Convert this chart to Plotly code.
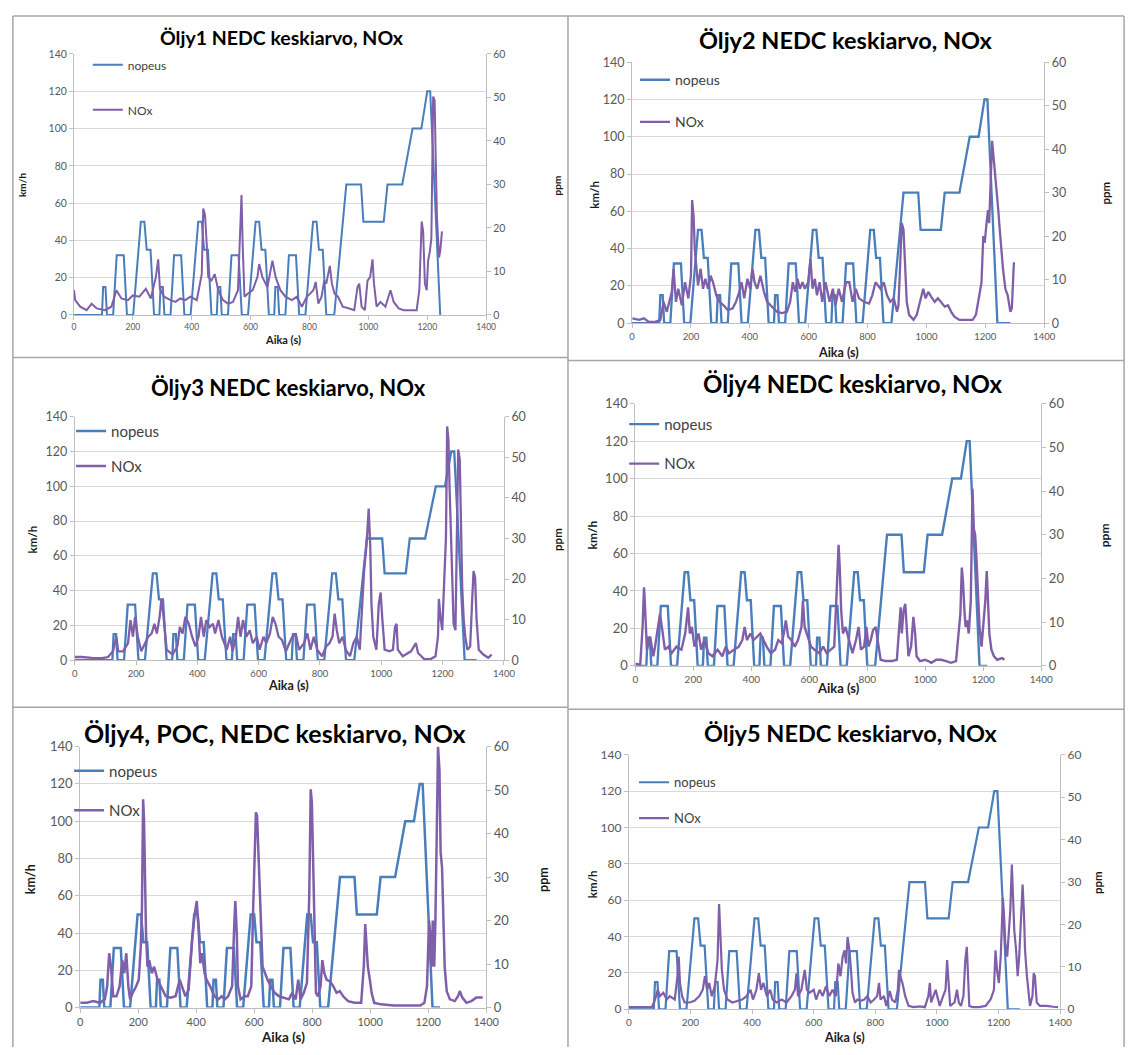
import plotly.graph_objects as go

W, H = 1143, 1055

titles = ["Öljy1 NEDC keskiarvo, NOx", "Öljy2 NEDC keskiarvo, NOx",
          "Öljy3 NEDC keskiarvo, NOx", "Öljy4 NEDC keskiarvo, NOx",
          "Öljy4, POC, NEDC keskiarvo, NOx", "Öljy5 NEDC keskiarvo, NOx"]

# NEDC speed profile (time from cycle start, s ; km/h)
nedc_time = [0, 11, 15, 23, 28, 49, 61, 85, 96, 117, 143, 155, 163, 176, 188,
             195, 206, 210, 218, 223, 244, 256, 280, 291, 312, 338, 350, 358, 371, 383,
             390, 401, 405, 413, 418, 439, 451, 475, 486, 507, 533, 545, 553, 566, 578,
             585, 596, 600, 608, 613, 634, 646, 670, 681, 702, 728, 740, 748, 761, 773,
             780, 800, 841, 891, 899, 968, 981, 1031, 1066, 1096, 1116, 1126, 1160]
nedc_speed = [0, 0, 15, 15, 0, 0, 32, 32, 0, 0, 50, 50, 35, 35, 0,
              0, 0, 15, 15, 0, 0, 32, 32, 0, 0, 50, 50, 35, 35, 0,
              0, 0, 15, 15, 0, 0, 32, 32, 0, 0, 50, 50, 35, 35, 0,
              0, 0, 15, 15, 0, 0, 32, 32, 0, 0, 50, 50, 35, 35, 0,
              0, 0, 70, 70, 50, 50, 70, 70, 100, 100, 120, 120, 0]
# cycle start time and last logged time of speed in each test (s)
cycle_start = [84, 81, 112, 27, 55, 70]
speed_end = [1244, 1285, 1311, 1214, 1241, 1270]

# NOx (ppm) per test
p1_time = [0, 4, 21, 43, 60, 77, 105, 127, 144, 161, 183, 200, 222, 244, 261, 278, 286, 292, 306, 328,
           345, 361, 378, 395, 417, 434, 439, 445, 451, 456, 467, 478, 490, 506, 523, 540, 557, 564, 569, 573,
           579, 590, 607, 623, 629, 640, 657, 674, 685, 701, 718, 740, 757, 774, 791, 802, 813, 821, 830, 841,
           850, 857, 869, 876, 885, 897, 913, 935, 952, 963, 969, 977, 988, 997, 1006, 1014, 1019, 1028, 1041, 1058,
           1075, 1086, 1103, 1120, 1164, 1173, 1181, 1186, 1192, 1198, 1203, 1209, 1214, 1220, 1225, 1229, 1233, 1240, 1244, 1250]
p1_nox = [5.7, 3.4, 1.9, 1.1, 2.6, 1.5, 1.1, 1.9, 5.7, 3.8, 3.4, 4.5, 4.2, 6.0, 3.8, 8.7, 12.8, 6.0, 4.2, 3.4,
          3.0, 3.8, 3.4, 4.2, 3.4, 9.4, 24.5, 23.0, 16.2, 8.7, 7.9, 9.4, 5.7, 3.4, 2.6, 3.0, 5.7, 20.8, 27.6, 16.2,
          4.2, 4.9, 5.7, 8.7, 11.7, 8.7, 6.4, 12.5, 8.7, 5.7, 4.2, 3.4, 4.2, 1.9, 4.2, 4.9, 5.7, 7.6, 2.6, 4.2,
          7.9, 7.2, 11.3, 7.2, 4.9, 4.2, 1.9, 1.5, 1.1, 6.4, 7.2, 1.9, 1.1, 7.9, 8.7, 12.8, 7.2, 1.9, 3.0, 1.9,
          5.7, 3.0, 1.5, 1.1, 1.1, 5.7, 21.5, 19.2, 7.2, 5.7, 12.5, 14.7, 17.7, 50.2, 49.4, 35.1, 22.3, 13.2, 14.7, 19.2]

p2_time = [1, 24, 40, 57, 79, 96, 107, 118, 135, 141, 149, 157, 169, 180, 191, 200, 204, 209, 213, 220,
           224, 233, 241, 249, 258, 267, 275, 286, 297, 311, 325, 342, 353, 364, 372, 381, 392, 401, 409, 416,
           425, 436, 448, 459, 476, 492, 509, 526, 537, 546, 554, 562, 570, 579, 587, 598, 606, 613, 621, 628,
           637, 646, 657, 671, 682, 691, 702, 713, 727, 738, 749, 760, 771, 788, 805, 816, 827, 836, 844, 855,
           866, 877, 889, 900, 905, 911, 916, 922, 928, 933, 941, 956, 967, 978, 989, 997, 1006, 1017, 1028, 1039,
           1050, 1062, 1073, 1084, 1095, 1112, 1134, 1157, 1168, 1179, 1187, 1193, 1198, 1204, 1209, 1213, 1218, 1223, 1228, 1232,
           1238, 1244, 1248, 1254, 1260, 1268, 1276, 1285, 1290, 1297]
p2_nox = [1.1, 0.75, 1.1, 0.3, 0.3, 0.75, 4.9, 2.6, 7.2, 12.5, 4.9, 7.9, 4.1, 9.4, 5.7, 10.9, 28.3, 24.5, 17.0, 10.9,
          8.7, 12.5, 7.9, 10.2, 7.9, 10.9, 9.4, 6.4, 4.9, 4.1, 3.0, 3.4, 4.9, 7.2, 9.4, 5.7, 10.2, 7.9, 12.5, 9.4,
          7.9, 10.9, 7.2, 4.9, 3.8, 2.6, 2.3, 2.6, 4.9, 9.4, 7.2, 10.2, 7.9, 9.4, 7.9, 9.4, 14.7, 7.9, 10.2, 6.4,
          9.4, 4.9, 9.4, 4.9, 7.9, 4.1, 7.9, 4.9, 9.4, 9.4, 4.9, 7.9, 5.7, 4.9, 4.5, 6.4, 9.4, 8.7, 7.9, 9.4,
          6.4, 4.9, 5.7, 2.6, 4.1, 14.0, 23.0, 21.5, 13.2, 4.9, 1.9, 0.75, 1.9, 4.9, 7.9, 5.7, 7.2, 6.0, 4.9, 5.7,
          4.9, 3.8, 4.1, 2.6, 1.5, 0.75, 0.75, 0.75, 1.9, 6.4, 9.4, 20.0, 18.5, 23.0, 26.0, 23.0, 32.1, 41.9, 38.1, 35.1,
          32.1, 26.0, 22.3, 17.0, 12.5, 7.9, 6.4, 2.6, 3.4, 14.0]

p3_time = [0, 23, 56, 88, 109, 125, 136, 142, 158, 174, 182, 190, 197, 206, 217, 230, 240, 251, 260, 268,
           277, 283, 290, 300, 319, 335, 343, 352, 361, 372, 383, 394, 404, 412, 421, 429, 440, 451, 458, 469,
           480, 496, 507, 515, 526, 533, 541, 549, 560, 571, 581, 594, 603, 616, 625, 637, 646, 655, 665, 676,
           689, 700, 710, 721, 732, 748, 759, 769, 780, 791, 807, 820, 831, 841, 848, 855, 863, 874, 884, 898,
           909, 920, 930, 938, 944, 952, 959, 964, 968, 974, 984, 992, 998, 1003, 1011, 1027, 1038, 1045, 1050, 1054,
           1070, 1097, 1113, 1120, 1140, 1161, 1177, 1185, 1188, 1193, 1199, 1204, 1211, 1215, 1219, 1223, 1228, 1232, 1236, 1242,
           1247, 1251, 1256, 1260, 1264, 1269, 1274, 1281, 1290, 1296, 1301, 1306, 1311, 1318, 1333, 1349, 1360]
p3_nox = [0.8, 0.8, 0.6, 0.5, 0.8, 2.2, 5.8, 2.2, 2.2, 4.2, 9.9, 5.8, 10.7, 5.8, 2.2, 4.2, 5.8, 6.6, 9.0, 6.6,
          10.7, 15.1, 10.7, 2.6, 1.4, 3.4, 8.2, 6.6, 10.7, 9.0, 5.8, 3.4, 5.8, 10.7, 5.8, 9.9, 8.2, 9.0, 6.6, 9.9,
          5.8, 2.6, 5.8, 2.2, 5.8, 10.7, 5.8, 9.9, 5.8, 7.4, 4.2, 5.8, 2.6, 5.8, 4.2, 6.6, 10.7, 9.0, 5.8, 5.0,
          2.2, 4.2, 5.8, 6.6, 2.6, 4.2, 6.6, 2.6, 5.8, 2.6, 1.0, 3.4, 4.2, 5.8, 11.5, 7.4, 4.2, 5.8, 2.6, 1.0,
          4.2, 5.8, 2.6, 13.9, 22.0, 28.5, 37.4, 28.5, 13.9, 5.8, 2.6, 13.9, 16.7, 10.7, 2.6, 2.2, 2.6, 8.2, 9.0, 2.6,
          1.0, 2.2, 4.2, 1.8, 0.3, 0.3, 1.0, 5.8, 15.1, 10.7, 7.4, 17.1, 30.1, 57.6, 54.3, 42.2, 30.1, 17.1, 9.0, 7.4,
          34.1, 51.9, 49.5, 30.1, 18.0, 9.9, 5.8, 2.6, 3.4, 13.9, 22.0, 20.4, 9.9, 2.6, 1.4, 0.6, 1.4]

p4_time = [0, 17, 25, 30, 34, 40, 51, 62, 68, 77, 85, 93, 102, 114, 125, 142, 159, 172, 182, 188,
           195, 204, 218, 227, 238, 252, 266, 284, 300, 312, 323, 340, 357, 369, 377, 385, 397, 408, 420, 431,
           442, 453, 467, 482, 493, 505, 512, 519, 527, 538, 550, 561, 573, 578, 584, 595, 606, 618, 635, 648,
           660, 674, 686, 694, 701, 705, 710, 716, 725, 737, 749, 761, 770, 778, 789, 797, 804, 812, 820, 829,
           838, 846, 863, 885, 902, 910, 915, 919, 925, 931, 936, 942, 951, 959, 965, 970, 982, 999, 1010, 1021,
           1038, 1055, 1072, 1089, 1106, 1114, 1121, 1126, 1130, 1135, 1139, 1144, 1150, 1157, 1163, 1167, 1172, 1177, 1182, 1187,
           1194, 1200, 1207, 1212, 1216, 1221, 1228, 1237, 1248, 1265, 1273]
p4_nox = [0.5, 0.3, 8.9, 18.0, 12.7, 3.7, 6.7, 2.2, 4.4, 8.9, 11.9, 8.2, 3.7, 4.4, 2.9, 4.4, 3.7, 7.4, 13.4, 7.4,
          8.9, 4.4, 7.4, 3.7, 5.9, 2.9, 2.2, 3.7, 2.2, 4.4, 2.9, 3.7, 4.4, 5.9, 8.9, 5.9, 7.4, 5.9, 6.7, 7.4,
          5.9, 4.4, 2.9, 3.7, 5.9, 5.2, 7.4, 10.4, 6.7, 5.9, 4.4, 5.9, 8.9, 14.9, 8.9, 6.7, 4.4, 3.7, 2.9, 4.4,
          2.9, 3.7, 4.4, 16.4, 27.7, 22.5, 12.7, 7.4, 8.9, 5.9, 2.9, 5.9, 8.9, 3.7, 4.4, 8.9, 4.4, 5.9, 8.2, 8.9,
          4.4, 1.4, 1.1, 1.1, 1.4, 8.9, 13.4, 7.4, 12.7, 14.2, 8.9, 2.2, 4.4, 11.2, 7.4, 2.2, 1.1, 1.4, 1.1, 0.7,
          1.4, 1.4, 1.1, 0.7, 1.1, 6.7, 11.9, 22.5, 19.4, 12.7, 8.9, 10.4, 7.4, 14.9, 40.5, 31.5, 30.0, 24.0, 16.4, 8.9,
          4.4, 8.9, 14.9, 21.7, 16.4, 7.4, 3.7, 2.2, 1.4, 1.8, 1.4]

p5_time = [0, 23, 45, 68, 85, 93, 100, 106, 114, 125, 136, 145, 152, 159, 166, 172, 181, 193, 202, 209,
           213, 217, 220, 224, 227, 232, 238, 247, 255, 267, 278, 295, 312, 329, 343, 352, 363, 374, 386, 395,
           402, 408, 414, 420, 429, 436, 448, 463, 476, 488, 499, 510, 524, 531, 535, 540, 544, 553, 567, 578,
           590, 596, 601, 606, 610, 615, 619, 624, 629, 637, 646, 658, 671, 686, 703, 720, 731, 743, 752, 760,
           771, 782, 790, 795, 799, 804, 808, 813, 820, 829, 835, 842, 850, 862, 873, 884, 895, 907, 924, 946,
           969, 978, 983, 987, 992, 999, 1005, 1014, 1037, 1082, 1128, 1173, 1187, 1196, 1203, 1207, 1212, 1216, 1221, 1225,
           1230, 1234, 1239, 1243, 1248, 1252, 1257, 1264, 1275, 1292, 1303, 1309, 1318, 1332, 1349, 1366, 1388]
p5_nox = [1.1, 1.1, 1.5, 1.1, 1.9, 4.9, 12.5, 9.4, 2.6, 2.6, 4.9, 10.9, 7.9, 12.5, 4.9, 1.9, 3.4, 4.9, 6.4, 14.0,
          23.0, 47.9, 43.4, 28.3, 17.0, 9.4, 10.9, 7.9, 9.4, 6.4, 4.9, 2.6, 2.3, 2.6, 6.4, 4.9, 2.6, 4.1, 15.5, 21.5,
          24.5, 18.5, 10.2, 12.5, 7.9, 6.4, 4.9, 2.6, 1.9, 2.6, 1.9, 2.6, 4.9, 18.5, 24.5, 17.0, 4.9, 1.9, 2.6, 2.6,
          4.9, 21.5, 32.1, 44.9, 44.1, 35.8, 30.6, 18.5, 9.4, 7.9, 6.4, 4.9, 3.4, 2.6, 2.3, 1.9, 3.4, 1.9, 6.4, 1.9,
          3.4, 5.7, 26.0, 50.2, 47.2, 32.1, 17.0, 3.4, 2.6, 4.9, 10.9, 7.9, 6.4, 6.0, 4.9, 3.4, 3.8, 2.6, 1.5, 1.1,
          1.1, 9.4, 19.2, 15.5, 9.4, 6.4, 3.4, 1.1, 0.75, 0.5, 0.5, 0.5, 1.1, 4.9, 20.0, 17.0, 9.4, 20.0, 9.4, 20.0,
          41.1, 60.0, 54.7, 35.8, 32.1, 22.3, 9.4, 3.8, 1.9, 1.5, 2.6, 3.8, 2.3, 1.1, 1.5, 2.3, 2.3]

p6_time = [0, 75, 85, 94, 101, 112, 123, 133, 149, 158, 162, 166, 173, 181, 197, 213, 229, 240, 247, 254,
           261, 269, 279, 288, 293, 297, 302, 309, 320, 336, 352, 368, 382, 395, 403, 414, 422, 429, 437, 448,
           459, 467, 480, 496, 512, 528, 539, 544, 549, 560, 571, 578, 587, 600, 608, 619, 629, 640, 651, 661,
           672, 680, 687, 694, 700, 705, 710, 716, 721, 726, 734, 742, 753, 764, 774, 785, 796, 806, 812, 817,
           828, 836, 847, 854, 865, 873, 877, 881, 888, 897, 908, 924, 945, 961, 972, 977, 981, 988, 996, 1001,
           1009, 1020, 1028, 1033, 1037, 1043, 1057, 1065, 1071, 1078, 1086, 1092, 1097, 1101, 1105, 1116, 1137, 1158, 1174, 1185,
           1190, 1195, 1201, 1207, 1214, 1218, 1222, 1228, 1233, 1238, 1243, 1247, 1251, 1257, 1262, 1267, 1274, 1278, 1282, 1286,
           1292, 1297, 1302, 1310, 1314, 1318, 1324, 1334, 1356, 1377, 1393]
p6_nox = [0.5, 0.5, 2.3, 4.6, 3.1, 3.9, 2.3, 3.1, 2.3, 7.8, 12.4, 6.2, 3.1, 1.6, 1.6, 2.0, 3.1, 4.6, 7.8, 4.6,
          6.2, 3.1, 5.4, 11.6, 24.8, 18.6, 9.3, 4.6, 2.3, 1.6, 2.0, 2.3, 3.1, 4.6, 2.3, 4.6, 8.5, 4.6, 6.2, 3.1,
          4.6, 2.3, 1.6, 2.3, 1.6, 3.1, 4.6, 8.5, 3.1, 4.6, 9.3, 4.6, 3.9, 4.6, 2.3, 4.6, 3.1, 5.4, 3.1, 4.6,
          3.1, 10.8, 7.8, 12.4, 13.9, 10.8, 17.0, 13.9, 9.3, 3.9, 1.6, 2.3, 2.0, 2.3, 3.1, 1.6, 2.3, 3.1, 6.2, 2.3,
          3.1, 0.8, 4.3, 2.3, 1.6, 4.6, 9.3, 7.8, 6.2, 3.1, 0.8, 0.5, 0.7, 0.5, 3.1, 6.2, 1.6, 3.1, 4.6, 3.1,
          0.8, 3.1, 4.6, 11.6, 6.2, 0.8, 1.6, 4.6, 1.6, 0.8, 3.1, 11.6, 14.7, 7.8, 0.8, 0.5, 0.5, 0.8, 2.3, 4.6,
          13.9, 9.3, 6.2, 12.4, 26.3, 21.7, 15.5, 12.4, 17.0, 23.2, 34.1, 27.1, 18.6, 13.9, 7.8, 12.4, 23.2, 29.4, 23.2, 13.9,
          7.8, 4.6, 0.8, 3.1, 8.5, 7.8, 1.6, 0.8, 0.8, 0.6, 0.5]

nox_time = [p1_time, p2_time, p3_time, p4_time, p5_time, p6_time]
nox_ppm = [p1_nox, p2_nox, p3_nox, p4_nox, p5_nox, p6_nox]
for a, b in zip(nox_time, nox_ppm):
    assert len(a) == len(b), (len(a), len(b))

x_ticks = [0, 200, 400, 600, 800, 1000, 1200, 1400]
speed_ticks = [0, 20, 40, 60, 80, 100, 120, 140]
ppm_ticks = [0, 10, 20, 30, 40, 50, 60]

# ---- layout geometry (pixels): plot area left, right, top, bottom
plot_px = [(72, 490, 46.7, 311.7), (638, 1056, 55, 320),
           (72.7, 508, 415, 662.3), (641.3, 1053, 401.7, 668),
           (78.3, 490, 750, 1015), (634.7, 1072.2, 758.3, 1016.7)]
title_px = [(283, 30, 19.5), (855, 32, 23.5), (290, 385, 22), (862, 381, 24), (276, 736, 25), (860, 736, 23.5)]
# legend: x, top, font size, group gap
legend_px = [(86, 43, 12, 26), (641, 57, 14, 21), (69, 413, 15, 12.5),
             (630, 406, 15, 17), (67, 758, 15, 17), (640, 771, 13, 16)]
tick_y_size = [10.5, 12.5, 12.5, 13, 13, 12]
tick_x_size = [8.5, 9.5, 9.5, 10, 11, 10]
atitle_size = [10, 11.5, 11.5, 12, 12.5, 11.5]
kmh_px = [(20, 180), (600, 190), (30, 540), (598, 535), (28, 885), (598, 890)]
ppm_px = [(562, 180), (1118, 188), (563, 540), (1118, 535), (548, 885), (1110, 888)]
aika_px = [(284, 337), (847, 350), (290, 688), (847, 690), (284, 1045), (853, 1045)]
line_w = [2, 2.3, 2.3, 2.4, 2.5, 2.2]

BLUE = "#4a7ebb"
PURPLE = "#7f5fa9"
GRID = "#d9d9d9"
AXIS = "#bfbfbf"
TICKC = "#595959"
FONT = "Lato"

fig = go.Figure()
layout = dict(width=W, height=H, margin=dict(l=0, r=0, t=0, b=0),
              paper_bgcolor="white", plot_bgcolor="white",
              font=dict(family=FONT, color="#404040"), annotations=[], shapes=[])


def px2x(p):
    return p / W


def px2y(p):
    return 1 - p / H


def label(text, x, y, size, angle=0):
    layout["annotations"].append(dict(text=text, x=px2x(x), y=px2y(y), xref="paper", yref="paper",
                                      showarrow=False, xanchor="center", yanchor="middle", textangle=angle,
                                      font=dict(size=size, color="#1a1a1a", family=FONT)))


for i in range(6):
    n = i + 1
    xs = "" if n == 1 else str(n)
    yl = "" if n == 1 else str(2 * n - 1)
    yr = str(2 * n)
    lg = "legend" if n == 1 else f"legend{n}"
    l, r, t, b = plot_px[i]
    st = cycle_start[i]
    sx = [0] + [tt + st for tt in nedc_time] + [speed_end[i]]
    sy = [0] + nedc_speed + [0]
    fig.add_trace(go.Scatter(x=sx, y=sy, mode="lines", name="nopeus",
                             line=dict(color=BLUE, width=line_w[i]),
                             xaxis="x" + xs, yaxis="y" + yl,
                             legend=lg, legendgroup=f"s{n}"))
    fig.add_trace(go.Scatter(x=nox_time[i], y=nox_ppm[i], mode="lines", name="NOx",
                             line=dict(color=PURPLE, width=line_w[i]),
                             xaxis="x" + xs, yaxis="y" + yr,
                             legend=lg, legendgroup=f"n{n}"))
    layout["xaxis" + xs] = dict(domain=[px2x(l), px2x(r)], anchor="y" + yl,
                                range=[0, 1400], tickvals=x_ticks, showgrid=False,
                                showline=True, linecolor=AXIS, ticks="outside", ticklen=4,
                                tickcolor=AXIS, tickfont=dict(size=tick_x_size[i], color=TICKC),
                                zeroline=False, fixedrange=True)
    layout["yaxis" + yl] = dict(domain=[px2y(b), px2y(t)], anchor="x" + xs,
                                range=[0, 140], tickvals=speed_ticks, showgrid=True,
                                gridcolor=GRID, gridwidth=1, showline=True, linecolor=AXIS,
                                ticks="outside", ticklen=4, tickcolor=AXIS,
                                tickfont=dict(size=tick_y_size[i], color=TICKC),
                                zeroline=False, fixedrange=True)
    layout["yaxis" + yr] = dict(domain=[px2y(b), px2y(t)], anchor="x" + xs,
                                overlaying="y" + yl, side="right",
                                range=[0, 60], tickvals=ppm_ticks, showgrid=False,
                                showline=True, linecolor=AXIS, ticks="outside", ticklen=4,
                                tickcolor=AXIS, tickfont=dict(size=tick_y_size[i], color=TICKC),
                                zeroline=False, fixedrange=True)
    lx, ly, lfs, gap = legend_px[i]
    layout[lg] = dict(x=px2x(lx), y=px2y(ly), xanchor="left", yanchor="top",
                      bgcolor="rgba(0,0,0,0)", borderwidth=0, tracegroupgap=gap,
                      itemwidth=30, font=dict(size=lfs, color="#404040", family=FONT))
    tx, ty, ts = title_px[i]
    layout["annotations"].append(dict(text="<b>" + titles[i] + "</b>", x=px2x(tx), y=px2y(ty),
                                      xref="paper", yref="paper", showarrow=False,
                                      xanchor="center", yanchor="middle",
                                      font=dict(size=ts, color="#000000", family=FONT)))
    label("<b>km/h</b>", kmh_px[i][0], kmh_px[i][1], atitle_size[i], -90)
    label("<b>ppm</b>", ppm_px[i][0], ppm_px[i][1], atitle_size[i], -90)
    label("<b>Aika (s)</b>", aika_px[i][0], aika_px[i][1], atitle_size[i] + 1)

# panel frame lines (table cells)
frame_lines = [(10, 8, 10, 1055), (573, 8, 573, 1055), (1137, 8, 1137, 1055),
               (10, 8, 1137, 8), (10, 355, 573, 355), (573, 358, 1137, 358),
               (10, 710, 573, 710), (573, 712, 1137, 712)]
for x0, y0, x1, y1 in frame_lines:
    layout["shapes"].append(dict(type="line", xref="paper", yref="paper",
                                 x0=px2x(x0), y0=px2y(y0), x1=px2x(x1), y1=px2y(y1),
                                 line=dict(color="#a6a6a6", width=1.5)))

fig.update_layout(**layout)
fig.write_html("out.html")
